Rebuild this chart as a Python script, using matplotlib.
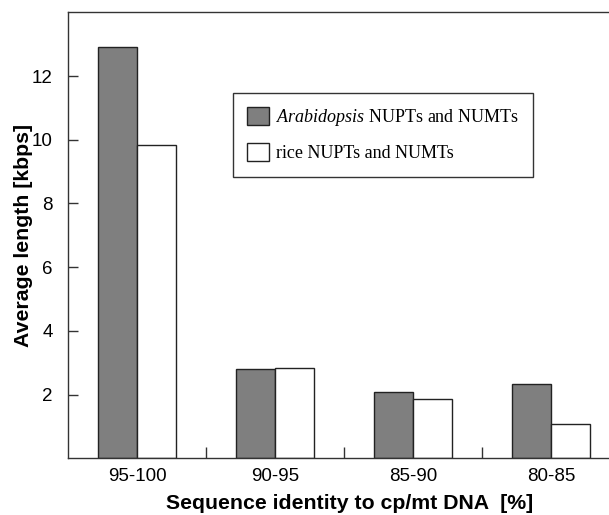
import matplotlib
matplotlib.use("Agg")
from matplotlib import pyplot as plt
from matplotlib.patches import Patch
import numpy as np

groups = ['95-100', '90-95', '85-90', '80-85']
arab = [12.92, 2.81, 2.07, 2.33]
rice = [9.83, 2.84, 1.86, 1.09]

plt.rcParams['mathtext.fontset'] = 'custom'
plt.rcParams['mathtext.it'] = 'Liberation Serif:italic'
plt.rcParams['mathtext.rm'] = 'Liberation Serif'

fig = plt.figure(figsize=(6.09, 5.15), dpi=100)
ax = fig.add_axes([0.112, 0.110, 0.906, 0.866])

x = np.arange(len(groups)) + 0.5
w = 0.283
ax.bar(x - w / 2, arab, w, color='#7f7f7f', edgecolor='#222222', linewidth=1.0)
ax.bar(x + w / 2, rice, w, color='white', edgecolor='#222222', linewidth=1.0)

ax.set_xlim(0, 4)
ax.set_ylim(0, 14)
ax.set_yticks([2, 4, 6, 8, 10, 12])
ax.set_xticks([1, 2, 3])
ax.set_xticklabels([])
ax.set_xticks(x, minor=True)
ax.set_xticklabels(groups, minor=True)
ax.tick_params(axis='x', which='major', direction='in', length=8, width=1, color='#333333')
ax.tick_params(axis='x', which='minor', length=0, pad=7)
ax.tick_params(axis='y', direction='in', length=7, width=1, color='#333333', pad=11)
for lab in ax.get_xticklabels(minor=True) + ax.get_yticklabels():
    lab.set_fontfamily('Liberation Sans')
    lab.set_fontsize(13.5)

for s in ax.spines.values():
    s.set_color('#333333')
    s.set_linewidth(1.0)
ax.spines['right'].set_visible(False)

ax.set_ylabel('Average length [kbps]', fontfamily='Liberation Sans',
              fontweight='bold', fontsize=15.3)
ax.yaxis.set_label_coords(-0.063, 0.5)
ax.set_xlabel('Sequence identity to cp/mt DNA  [%]', fontfamily='Liberation Sans',
              fontweight='bold', fontsize=15.3)
ax.xaxis.set_label_coords(0.51, -0.079)

handles = [Patch(facecolor='#7f7f7f', edgecolor='#222222'),
           Patch(facecolor='white', edgecolor='#222222')]
leg = ax.legend(handles, [r'$\it{Arabidopsis}$ NUPTs and NUMTs', 'rice NUPTs and NUMTs'],
                loc='upper left', bbox_to_anchor=(0.298, 0.82),
                fancybox=False, edgecolor='#333333', framealpha=1,
                prop={'family': 'Liberation Serif', 'size': 13},
                handlelength=1.2, handleheight=1.1, handletextpad=0.4,
                borderpad=0.8, labelspacing=0.85, borderaxespad=0)
leg.get_frame().set_linewidth(1.0)

fig.savefig('out.png', dpi=100)
